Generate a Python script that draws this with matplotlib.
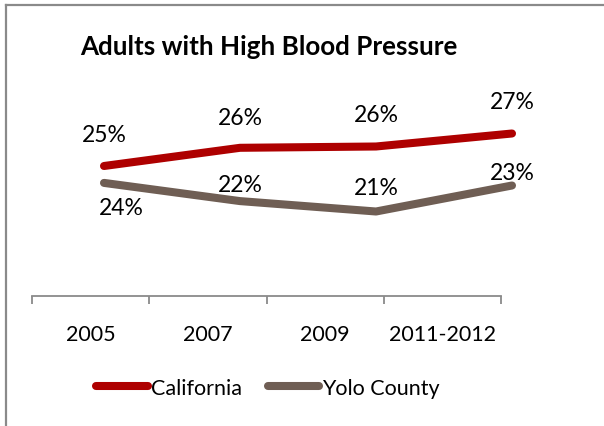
import matplotlib
matplotlib.use("Agg")
import matplotlib.pyplot as plt
from matplotlib.lines import Line2D

# Survey periods and prevalence (%) of adults with high blood pressure
periods = ["2005", "2007", "2009", "2011-2012"]
california = [24.9, 26.3, 26.4, 27.4]
yolo_county = [23.6, 22.2, 21.4, 23.4]

RED = "#AE0000"
TAUPE = "#6F5E54"
AXIS_GRAY = "#8A8A8A"
FONT = "Lato"

W, H = 604, 427
fig = plt.figure(figsize=(W / 100, H / 100), dpi=100)


def fx(px):
    return px / W


def fy(py):
    return 1 - py / H


# chart frame (left and top edges)
fig.add_artist(Line2D([fx(6), fx(6)], [fy(6), 0], color=AXIS_GRAY, lw=1.6,
                      transform=fig.transFigure))
fig.add_artist(Line2D([fx(6), 1], [fy(6), fy(6)], color=AXIS_GRAY, lw=1.6,
                      transform=fig.transFigure))

# title
fig.text(fx(269), fy(55), "Adults with High Blood Pressure", ha="center",
         va="baseline", fontsize=18.7, fontweight="bold", family=FONT)

# category axis
ax_cat = fig.add_axes([fx(32), fy(297), fx(501) - fx(32), 0.05])
ax_cat.set_xlim(0, len(periods))
ax_cat.set_ylim(0, 1)
for s in ("left", "right", "top"):
    ax_cat.spines[s].set_visible(False)
ax_cat.spines["bottom"].set_color(AXIS_GRAY)
ax_cat.spines["bottom"].set_linewidth(1.3)
ax_cat.set_yticks([])
ax_cat.set_xticks(range(len(periods) + 1))
ax_cat.set_xticklabels([])
ax_cat.set_xticks([i + 0.5 for i in range(len(periods))], minor=True)
ax_cat.set_xticklabels(periods, minor=True)
ax_cat.tick_params(axis="x", which="major", length=5.8, width=1.3,
                   color=AXIS_GRAY, direction="out")
ax_cat.tick_params(axis="x", which="minor", length=0, pad=32)
for lbl in ax_cat.get_xticklabels(minor=True):
    lbl.set_family(FONT)
    lbl.set_fontsize(15.5)
    lbl.set_va("baseline")
ax_cat.patch.set_visible(False)

# line series
ax = fig.add_axes([fx(36), fy(297), fx(580) - fx(36), fy(67) - fy(297)])
ax.set_xlim(-0.5, len(periods) - 0.5)
ax.set_ylim(14.9, 14.9 + 230 / 13)
ax.axis("off")
x = list(range(len(periods)))
lc, = ax.plot(x, california, color=RED, lw=5.8, solid_capstyle="round",
              solid_joinstyle="round", label="California")
ly, = ax.plot(x, yolo_county, color=TAUPE, lw=5.8, solid_capstyle="round",
              solid_joinstyle="round", label="Yolo County")

# data labels (offsets in pixels to label baseline)
cal_off = [(0, 25), (0, 24), (0, 25), (0, 25)]
yolo_off = [(17, -31), (0, 10), (0, 17), (0, 6.5)]
for vals, offs in ((california, cal_off), (yolo_county, yolo_off)):
    for i, (v, off) in enumerate(zip(vals, offs)):
        ax.annotate(f"{v:.0f}%", (i, v), xytext=off, textcoords="offset pixels",
                    ha="center", va="baseline", fontsize=16.5, family=FONT,
                    color="black")

# legend
leg = fig.legend(handles=[lc, ly], loc="center", ncol=2,
                 bbox_to_anchor=(fx(268), fy(389)), frameon=False,
                 prop={"family": FONT, "size": 15.5}, handlelength=2.4,
                 handletextpad=0.15, columnspacing=1.2)

fig.savefig("out.png", dpi=100)
